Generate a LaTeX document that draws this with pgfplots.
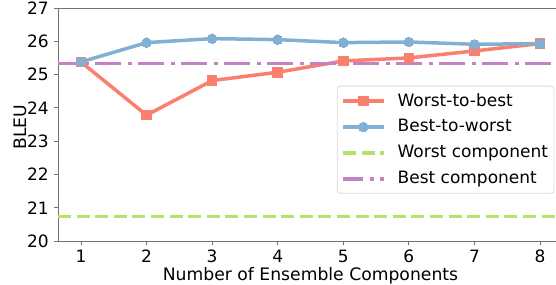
\documentclass[border=0pt]{standalone}
\usepackage{pgfplots}
\pgfplotsset{compat=1.18}
\usepackage{fontspec}
\setmainfont{DejaVu Sans}
\definecolor{cred}{HTML}{FA7F6F}
\definecolor{cblue}{HTML}{82B0D2}
\definecolor{cgreen}{HTML}{B6E26C}
\definecolor{cpurple}{HTML}{C183C3}
\begin{document}
\fontsize{17bp}{20bp}\selectfont
\begin{tikzpicture}
\path[use as bounding box] (0,0) rectangle (556bp,285bp);
\begin{axis}[
  at={(58bp,44bp)}, anchor=south west,
  width=505bp, height=233bp, scale only axis,
  xmin=0.65, xmax=8.35, ymin=20, ymax=27,
  xtick={1,2,3,4,5,6,7,8}, ytick={20,21,22,23,24,25,26,27},
  tick align=outside, major tick length=3.5bp,
  xtick pos=bottom, ytick pos=left,
  axis line style={draw=black!55, line width=0.8bp},
  tick style={draw=black!55, line width=0.8bp},
  /pgf/number format/assume math mode=true,
  ticklabel style={font=\fontsize{17bp}{20bp}\selectfont},
  label style={font=\fontsize{17.2bp}{20bp}\selectfont},
  xlabel={Number of Ensemble Components},
  ylabel={BLEU},
  xlabel style={at={(axis description cs:0.5,-0.1674)}, anchor=base},
  ylabel style={at={(axis description cs:-0.0752,0.489)}, anchor=center},
  legend style={at={(axis description cs:0.552,0.6665)}, anchor=north west,
    draw=black!15, rounded corners=3bp, fill=white, line width=0.8bp,
    font=\fontsize{17bp}{20bp}\selectfont, row sep=7bp, column sep=10bp,
    inner xsep=4bp, inner ysep=5bp},
  legend cell align=left,
  legend image code/.code={
    \draw[mark repeat=2,mark phase=2,#1] plot coordinates {(0bp,0bp) (20.5bp,0bp) (41bp,0bp)};
  },
]
\addplot[color=cred, line width=3.5bp, mark=square*, mark size=4.8bp, mark options={solid, fill=cred, draw=cred, line width=0bp}]
  coordinates {(1,25.38) (2,23.78) (3,24.82) (4,25.07) (5,25.41) (6,25.50) (7,25.71) (8,25.93)};
\addlegendentry{Worst-to-best}
\addplot[color=cblue, line width=3.5bp, mark=*, mark size=4.8bp, mark options={solid, fill=cblue, draw=cblue, line width=0bp}]
  coordinates {(1,25.38) (2,25.96) (3,26.08) (4,26.05) (5,25.96) (6,25.98) (7,25.91) (8,25.93)};
\addlegendentry{Best-to-worst}
\addplot[color=cgreen, line width=3.5bp, dash pattern=on 13bp off 5.6bp]
  coordinates {(0.65,20.73) (8.35,20.73)};
\addlegendentry{Worst component}
\addplot[color=cpurple, line width=3.5bp, dash pattern=on 26bp off 6.5bp on 4bp off 6.5bp, dash phase=5.6bp]
  coordinates {(0.65,25.33) (8.35,25.33)};
\addlegendentry{Best component}
\end{axis}
\end{tikzpicture}
\end{document}
